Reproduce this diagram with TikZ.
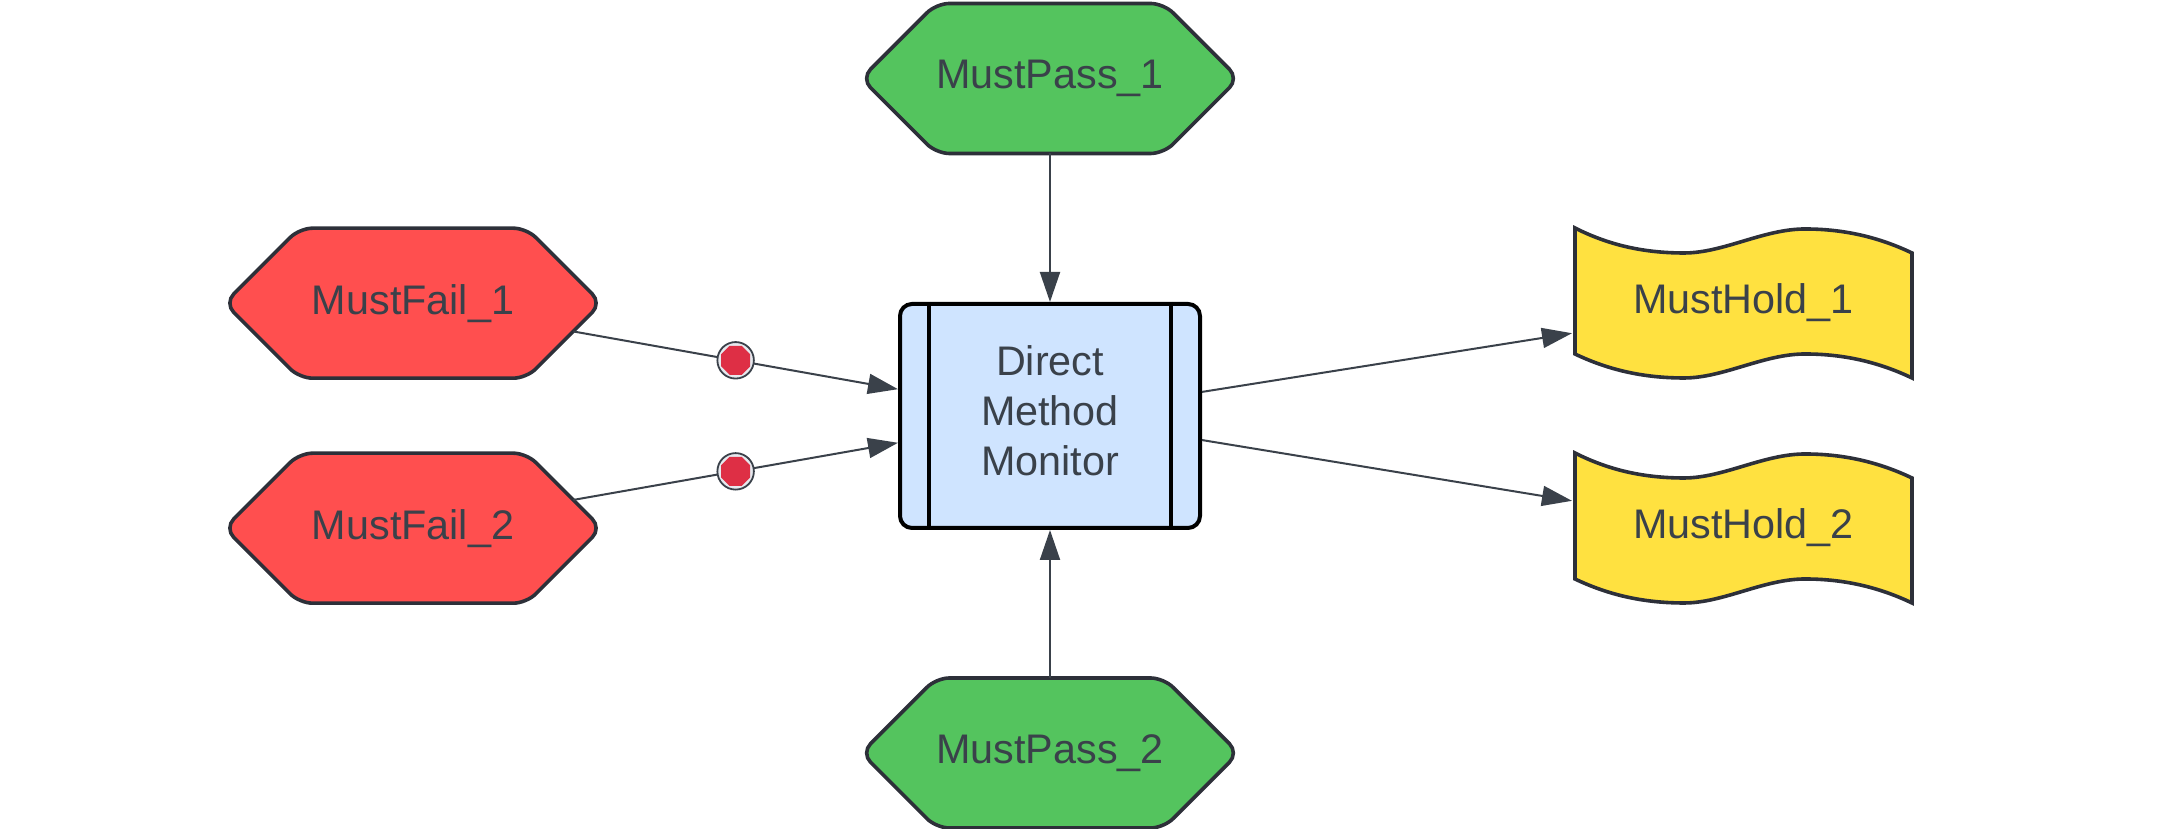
\documentclass[tikz,border=0pt]{standalone}
\usepackage{fontspec}
\setmainfont{Liberation Sans}
\usetikzlibrary{shapes,arrows.meta,positioning,calc}

\definecolor{inkgray}{HTML}{3A414A}
\definecolor{edgegray}{HTML}{2D3039}
\definecolor{passgreen}{HTML}{54C45E}
\definecolor{failred}{HTML}{FF4F4F}
\definecolor{holdyellow}{HTML}{FFE140}
\definecolor{monitorblue}{HTML}{CFE4FF}
\definecolor{stopred}{HTML}{DE2F45}
\definecolor{stopring}{HTML}{E6E9EE}

\newcommand{\diagfont}{\fontsize{11.76pt}{14.2pt}\selectfont}
\newcommand{\holdcurve}{(-1.685,0.75) .. controls (-1.35,0.58) and (-1.0,0.50) .. (-0.595,0.50) .. controls (-0.2,0.50) and (0.2,0.74) .. (0.615,0.74) .. controls (1.0,0.74) and (1.35,0.66) .. (1.685,0.50) -- (1.685,-0.75) .. controls (1.35,-0.59) and (1.0,-0.51) .. (0.615,-0.51) .. controls (0.2,-0.51) and (-0.2,-0.75) .. (-0.595,-0.75) .. controls (-1.0,-0.75) and (-1.35,-0.67) .. (-1.685,-0.51) -- cycle}

\tikzset{
    hexnode/.style={shape=signal, signal to=east and west, signal pointer angle=90, draw=edgegray, line width=0.036cm, rounded corners=0.13cm, minimum width=3.77cm, minimum height=1.5cm, inner sep=0pt, outer sep=0pt, text=inkgray, font=\diagfont},
    passnode/.style={hexnode, fill=passgreen},
    failnode/.style={hexnode, fill=failred},
    holdshape/.style={draw=edgegray, line width=0.036cm, fill=holdyellow, miter limit=10},
    holdnode/.style={minimum width=3.37cm, minimum height=1.5cm, inner sep=0pt, outer sep=0.03cm, text=inkgray, font=\diagfont},
    monitornode/.style={draw=black, line width=0.04cm, rounded corners=0.12cm, fill=monitorblue, minimum width=3cm, minimum height=2.24cm, inner sep=0pt, outer sep=0.02cm, align=center, text=inkgray, font=\diagfont},
    monitorbar/.style={draw=black, line width=0.04cm},
    flow/.style={draw=inkgray, line width=0.02cm, -{Triangle[length=0.3cm, width=0.2cm]}},
    ringmark/.style={circle, draw=inkgray, line width=0.018cm, fill=stopring, minimum size=0.365cm, inner sep=0pt},
    stopmark/.style={regular polygon, regular polygon sides=8, fill=stopred, minimum size=0.315cm, inner sep=0pt}
}

\begin{document}
\begin{tikzpicture}
    \useasboundingbox (0,0) rectangle (21.75,8.29);

    % Passing inputs
    \node[passnode] (pass1) at (10.5,7.505) {MustPass\_1};
    \node[passnode] (pass2) at (10.5,0.76) {MustPass\_2};

    % Failing inputs
    \node[failnode] (fail1) at (4.13,5.258) {MustFail\_1};
    \node[failnode] (fail2) at (4.13,3.008) {MustFail\_2};

    % Monitor
    \node[monitornode] (monitor) at (10.5,4.13) {Direct\\Method\\Monitor\rule[-0.11cm]{0pt}{0.11cm}};
    \draw[monitorbar] ([xshift=0.31cm]monitor.north west) -- ([xshift=0.31cm]monitor.south west);
    \draw[monitorbar] ([xshift=-0.31cm]monitor.north east) -- ([xshift=-0.31cm]monitor.south east);

    % Outputs
    \draw[holdshape, shift={(17.435,5.26)}] \holdcurve;
    \draw[holdshape, shift={(17.435,3.01)}] \holdcurve;
    \node[holdnode] (hold1) at (17.435,5.26) {MustHold\_1};
    \node[holdnode] (hold2) at (17.435,3.01) {MustHold\_2};

    % Connectors
    \draw[flow] (pass1.south) -- (monitor.north);
    \draw[flow] (pass2.north) -- (monitor.south);
    \draw[flow] (fail1.350) -- (monitor.170) node[ringmark, pos=0.5] (ring1) {} node[stopmark, pos=0.5] (stop1) {};
    \draw[flow] (fail2.10) -- (monitor.190) node[ringmark, pos=0.5] (ring2) {} node[stopmark, pos=0.5] (stop2) {};
    \draw[flow] (monitor.9) -- (hold1.190);
    \draw[flow] (monitor.351) -- (hold2.171);
\end{tikzpicture}
\end{document}
